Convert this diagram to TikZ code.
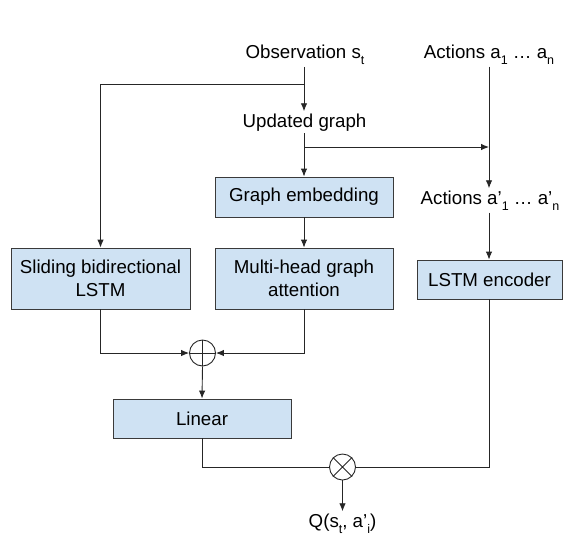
\documentclass[tikz,border=0pt]{standalone}
\usepackage{fontspec}
\setmainfont{Liberation Sans}
\usetikzlibrary{arrows.meta}
\definecolor{boxfill}{HTML}{CFE2F3}
\definecolor{boxline}{HTML}{3A3A3A}
\definecolor{wire}{HTML}{262626}
\newcommand{\lowsub}[1]{\raisebox{-6.5pt}{\fontsize{12.5}{12.5}\selectfont #1}}
\begin{document}
\begin{tikzpicture}[x=1pt,y=-1pt,
  every node/.style={font=\fontsize{18.7}{23}\selectfont, text=black},
  lbl/.style={anchor=base, inner sep=2pt},
  blk/.style={draw=boxline, line width=0.9pt, fill=boxfill, align=center, inner sep=0pt},
  op/.style={circle, draw=wire, line width=0.9pt, minimum size=26pt, inner sep=0pt},
  wirel/.style={draw=wire, line width=0.9pt},
  arr/.style={wirel, -{Latex[length=8pt,width=6.5pt]}}
]
\useasboundingbox (0,0) rectangle (585,550);

% text labels
\node[lbl] (obs) at (305,58) {Observation s\lowsub{t}};
\node[lbl] (act) at (489,58) {Actions a\lowsub{1} … a\lowsub{n}};
\node[lbl] (upd) at (304.5,127) {Updated graph};
\node[lbl] (act2) at (490,204) {Actions a’\lowsub{1} … a’\lowsub{n}};
\node[lbl] (q) at (342.5,527) {Q(s\lowsub{t}, a’\lowsub{i})};

% boxes
\node[blk, minimum width=178pt, minimum height=40pt] (emb) at (304,197) {Graph embedding};
\node[blk, minimum width=179pt, minimum height=61pt] (sld) at (100.5,278.5) {Sliding bidirectional\\LSTM};
\node[blk, minimum width=178pt, minimum height=61pt] (mha) at (304,278.5) {Multi-head graph\\attention};
\node[blk, minimum width=145pt, minimum height=39pt] (enc) at (489.5,279.5) {LSTM encoder};
\node[blk, minimum width=178pt, minimum height=39pt] (lin) at (202,418.5) {Linear};

% operators
\node[op] (plus) at (202.5,353) {};
\node[op] (times) at (342.5,467) {};
\draw[wirel] (plus.north) -- (plus.south) (plus.west) -- (plus.east);
\draw[wirel] (times.north west) -- (times.south east) (times.north east) -- (times.south west);

% junctions
\coordinate (j1) at (304,84);
\coordinate (j2) at (304,147);
\coordinate (j3) at (489,147);

% connectors
\draw[arr] (obs.south -| j1) -- (upd.north -| j1);
\draw[arr] (j1) -| (sld.north);
\draw[arr] (upd.south -| j2) -- (emb.north);
\draw[arr] (j2) -- (j3);
\draw[arr] (act.south -| j3) -- (act2.north -| j3);
\draw[arr] (act2.south -| j3) -- (enc.north -| j3);
\draw[arr] (emb.south) -- (mha.north);
\draw[arr] (sld.south) |- (plus.west);
\draw[arr] (mha.south) |- (plus.east);
\draw[arr] (plus.south) -- (lin.north);
\draw[wirel] (lin.south) |- (times.west);
\draw[wirel] (enc.south -| j3) |- (times.east);
\draw[arr] (times.south) -- (q.north);
\end{tikzpicture}
\end{document}
